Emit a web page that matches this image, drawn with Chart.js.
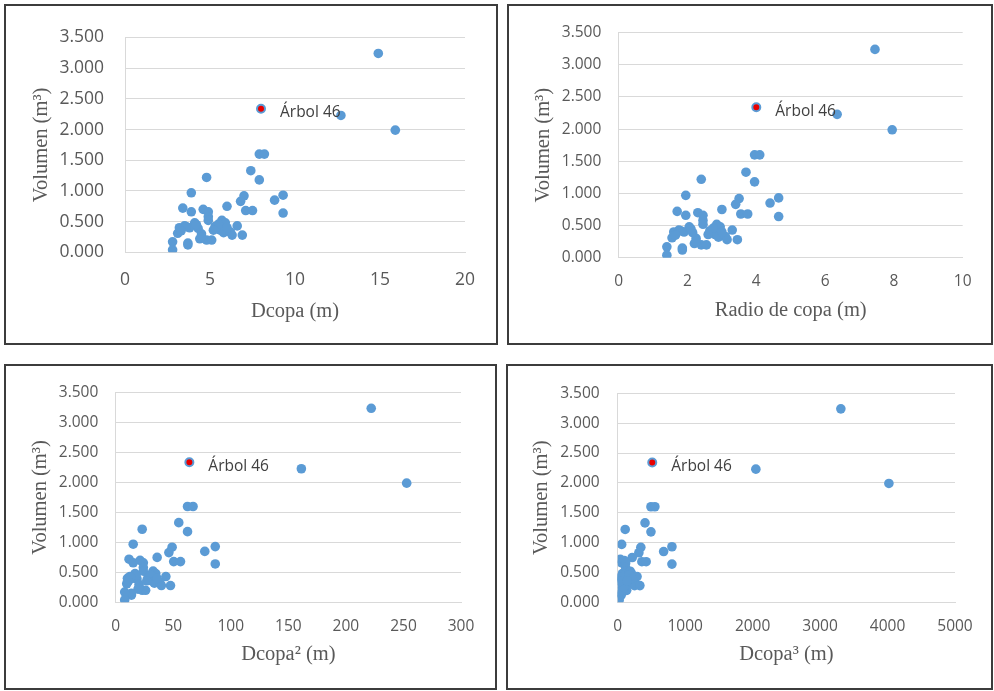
<!DOCTYPE html>
<html>
<head>
<meta charset="utf-8">
<script src="https://cdn.jsdelivr.net/npm/chart.js@4/dist/chart.umd.min.js"></script>
<style>
  body { margin: 0; background: #fff; }
  .caja { position: absolute; border: 2px solid #3c3c3c; box-sizing: border-box; background: #fff; }
  .caja canvas { position: absolute; left: 0; top: 0; }
</style>
</head>
<body>
<div class="caja" style="left:4px;top:4px;width:494px;height:341px"><canvas id="grafico1" width="490" height="337"></canvas></div>
<div class="caja" style="left:507px;top:4px;width:486px;height:341px"><canvas id="grafico2" width="482" height="337"></canvas></div>
<div class="caja" style="left:4px;top:364px;width:493px;height:326px"><canvas id="grafico3" width="489" height="322"></canvas></div>
<div class="caja" style="left:506px;top:364px;width:487px;height:326px"><canvas id="grafico4" width="483" height="322"></canvas></div>
<script>
// volumen de cada arbol (m3)
var volumen = [3.24, 2.23, 1.99, 1.60, 1.60, 1.33, 1.18, 1.22, 0.97, 0.92, 0.83, 0.85, 0.93, 0.64, 0.68, 0.68, 0.75, 0.72, 0.66, 0.70,
  0.66, 0.58, 0.52, 0.52, 0.48, 0.43, 0.48, 0.40, 0.43, 0.40, 0.39, 0.31, 0.42, 0.36, 0.32, 0.33, 0.28, 0.28, 0.22, 0.30,
  0.20, 0.20, 0.12, 0.15, 0.17, 0.04, 0.45, 0.42, 0.46, 0.40, 0.25, 0.35, 0.36];

// diametro de copa (m)
var dcopa = [14.9, 12.7, 15.9, 7.9, 8.2, 7.4, 7.9, 4.8, 3.9, 7.0, 6.8, 8.8, 9.3, 9.3, 7.1, 7.5, 6.0, 3.4, 3.9, 4.6,
  4.9, 4.9, 4.9, 5.7, 5.9, 6.6, 4.1, 3.2, 3.5, 3.8, 4.3, 3.1, 5.3, 5.6, 5.8, 6.2, 6.3, 6.9, 4.4, 4.5,
  4.8, 5.1, 3.7, 3.7, 2.8, 2.8, 4.2, 3.6, 5.5, 6.0, 4.5, 3.3, 5.2];

// radio de copa (m)
var radioCopa = [7.45, 6.35, 7.95, 3.95, 4.1, 3.7, 3.95, 2.4, 1.95, 3.5, 3.4, 4.4, 4.65, 4.65, 3.55, 3.75, 3.0, 1.7, 1.95, 2.3,
  2.45, 2.45, 2.45, 2.85, 2.95, 3.3, 2.05, 1.6, 1.75, 1.9, 2.15, 1.55, 2.65, 2.8, 2.9, 3.1, 3.15, 3.45, 2.2, 2.25,
  2.4, 2.55, 1.85, 1.85, 1.4, 1.4, 2.1, 1.8, 2.75, 3.0, 2.25, 1.65, 2.6];

// Dcopa al cuadrado
var dcopa2 = [222.0, 161.3, 252.8, 62.4, 67.2, 54.8, 62.4, 23.0, 15.2, 49.0, 46.2, 77.4, 86.5, 86.5, 50.4, 56.3, 36.0, 11.6, 15.2, 21.2,
  24.0, 24.0, 24.0, 32.5, 34.8, 43.6, 16.8, 10.2, 12.3, 14.4, 18.5, 9.6, 28.1, 31.4, 33.6, 38.4, 39.7, 47.6, 19.4, 20.3,
  23.0, 26.0, 13.7, 13.7, 7.8, 7.8, 17.6, 13.0, 30.3, 36.0, 20.3, 10.9, 27.0];

// Dcopa al cubo
var dcopa3 = [3308, 2048, 4020, 493, 551, 405, 493, 111, 59, 343, 314, 681, 804, 804, 358, 422, 216, 39, 59, 97,
  118, 118, 118, 185, 205, 287, 69, 33, 43, 55, 80, 30, 149, 176, 195, 238, 250, 329, 85, 91,
  111, 133, 51, 51, 22, 22, 74, 47, 166, 216, 91, 36, 141];

// arbol 46 (punto destacado)
var arbol46Nombre = 'Árbol 46';
var arbol46Volumen = 2.34;
var arbol46X = [8.0, 4.0, 64, 512];

var volTicks = [0, 0.5, 1, 1.5, 2, 2.5, 3, 3.5];

var azul = '#5B9BD5';
var gris = '#595959';

// etiqueta del arbol 46 junto al punto
var etiquetaArbol = {
  id: 'etiquetaArbol',
  afterDatasetsDraw: function(chart) {
    var pt = chart.getDatasetMeta(0).data[0];
    var ctx = chart.ctx;
    ctx.save();
    ctx.font = '15.5px "Open Sans"';
    ctx.fillStyle = '#404040';
    ctx.textAlign = 'left';
    ctx.textBaseline = 'middle';
    ctx.fillText(arbol46Nombre, pt.x + 19, pt.y + 4);
    ctx.restore();
  }
};

function crearGrafico(id, xs, ax, tituloX, xMax, xPaso, c) {
  var puntos = xs.map(function(x, i) { return {x: x, y: volumen[i]}; });
  return new Chart(document.getElementById(id), {
    type: 'scatter',
    data: {
      datasets: [{
        label: arbol46Nombre,
        data: [{x: ax, y: arbol46Volumen}],
        backgroundColor: '#E80000',
        borderColor: azul,
        borderWidth: 2,
        pointRadius: 4,
        order: 0
      }, {
        label: 'Volumen',
        data: puntos,
        backgroundColor: azul,
        borderWidth: 0,
        pointRadius: 4.8,
        order: 1
      }]
    },
    options: {
      responsive: false,
      animation: false,
      layout: { padding: { left: 0, right: c.padDer, top: c.padSup, bottom: 0 } },
      plugins: { legend: { display: false }, tooltip: { enabled: false } },
      scales: {
        x: {
          type: 'linear',
          min: 0, max: xMax,
          afterFit: function(s) { s.height = c.altoX; },
          ticks: {
            stepSize: xPaso, color: gris, padding: c.padTickX, font: { family: 'Open Sans', size: c.fuente },
            callback: function(v) { return String(v); }
          },
          grid: { display: false, drawTicks: false },
          border: { display: true, color: '#D9D9D9', width: 1 },
          title: { display: true, text: tituloX, color: gris, padding: { top: 0, bottom: c.padTitX },
                   font: { family: 'Liberation Serif', size: 20.5 } }
        },
        y: {
          min: 0, max: 3.5,
          afterFit: function(s) { s.width = c.anchoY; },
          afterBuildTicks: function(s) { s.ticks = volTicks.map(function(v) { return {value: v}; }); },
          ticks: {
            color: gris, padding: c.padTickY, font: { family: 'Open Sans', size: c.fuente },
            callback: function(v) { return Number(v).toFixed(3); }
          },
          grid: { color: '#D9D9D9', drawTicks: false },
          border: { display: true, color: '#D9D9D9', width: 1 },
          title: { display: true, text: 'Volumen (m³)', color: gris, padding: { top: c.padTitY, bottom: 0 },
                   font: { family: 'Liberation Serif', size: 20.5 } }
        }
      }
    },
    plugins: [etiquetaArbol]
  });
}

crearGrafico('grafico1', dcopa, arbol46X[0], 'Dcopa (m)', 20, 5,
  { padDer: 31, padSup: 20.7, altoX: 90.7, anchoY: 119, padTickY: 21, padTitY: 23.7, padTickX: 17, padTitX: 19.5, fuente: 17.5 });
crearGrafico('grafico2', radioCopa, arbol46X[1], 'Radio de copa (m)', 10, 2,
  { padDer: 28.3, padSup: 19.7, altoX: 85.3, anchoY: 109.7, padTickY: 17.4, padTitY: 22.4, padTickX: 14.7, padTitX: 20, fuente: 15.5 });
crearGrafico('grafico3', dcopa2, arbol46X[2], 'Dcopa² (m)', 300, 50,
  { padDer: 34, padSup: 19.7, altoX: 85.7, anchoY: 109.7, padTickY: 17.4, padTitY: 22.4, padTickX: 15, padTitX: 20.7, fuente: 15.5 });
crearGrafico('grafico4', dcopa3, arbol46X[3], 'Dcopa³ (m)', 5000, 1000,
  { padDer: 36, padSup: 19.7, altoX: 85.7, anchoY: 109.7, padTickY: 18, padTitY: 21.7, padTickX: 15, padTitX: 20.7, fuente: 15.5 });
</script>
</body>
</html>
